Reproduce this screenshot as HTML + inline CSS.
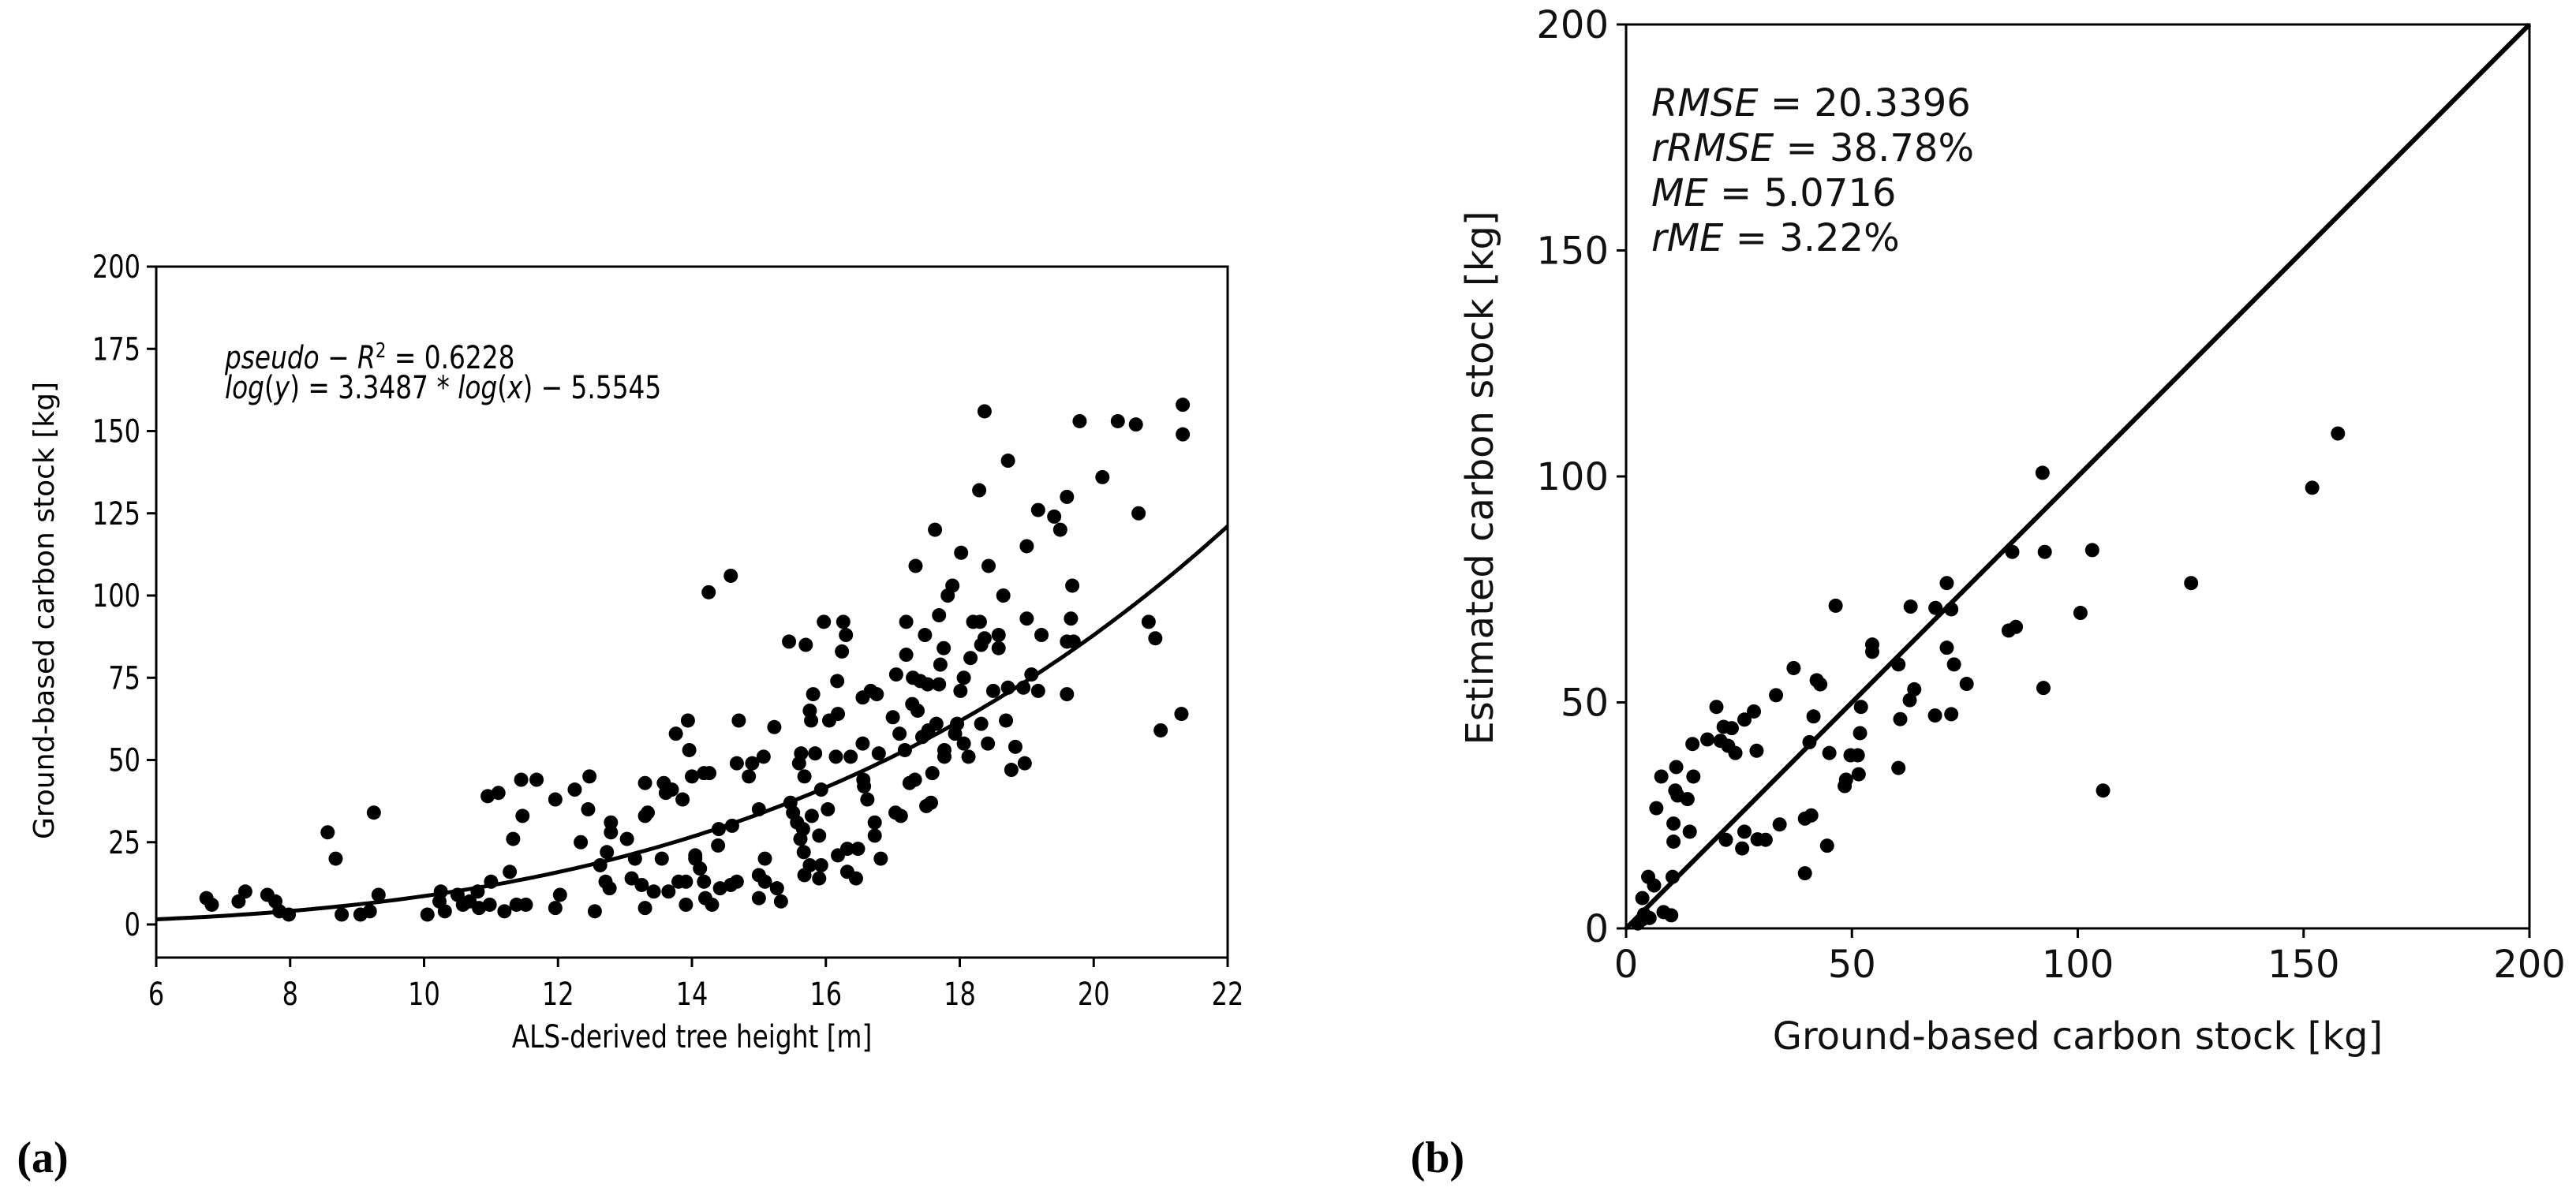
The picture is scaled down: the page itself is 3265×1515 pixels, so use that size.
<!DOCTYPE html>
<html><head><meta charset="utf-8"><style>
html,body{margin:0;padding:0;background:#fff;}
svg{display:block;font-family:"DejaVu Sans","Liberation Sans",sans-serif;}
</style></head><body>
<svg id="fig" width="3265" height="1515" viewBox="0 0 3265 1515" xmlns="http://www.w3.org/2000/svg">
<rect width="3265" height="1515" fill="#fff"/>
<g id="panelA"></g>
<g id="panelB"></g>
<text x="54" y="1486" font-family="Liberation Serif, serif" font-weight="bold" font-size="56" text-anchor="middle">(a)</text>
<text x="1822" y="1486" font-family="Liberation Serif, serif" font-weight="bold" font-size="56" text-anchor="middle">(b)</text>
</svg>
<script>
// ---- Panel A data ----
const heightX = [
19.79,20.13,20.36,20.63,20.67,20.82,20.92,21.0,21.33,21.33,
21.31,19.68,19.66,19.6,19.5,19.41,19.6,19.7,19.6,19.17,
19.22,19.17,19.07,19.0,19.0,18.97,18.95,18.83,18.77,18.72,
18.69,18.72,18.65,18.58,18.58,18.5,18.42,18.43,18.37,18.37,
18.32,18.32,18.29,18.3,18.2,18.16,18.13,18.06,18.02,18.06,
18.01,17.96,17.93,17.89,17.82,17.77,17.77,17.76,17.71,17.69,
17.69,17.65,17.63,17.59,17.57,17.53,17.5,17.52,17.48,17.44,
17.41,17.37,17.34,17.3,17.29,17.33,17.25,17.2,17.2,17.18,
17.1,17.12,17.05,17.04,17.0,16.82,16.76,16.73,16.73,16.79,
16.67,16.62,16.57,16.56,16.55,16.55,16.48,16.45,16.24,16.3,
16.26,16.37,16.17,16.18,16.15,16.18,16.32,16.32,16.05,16.03,
15.97,15.93,15.9,15.93,15.84,15.81,15.9,15.79,15.78,15.76,
15.7,15.68,15.63,15.6,15.68,15.67,15.66,15.62,15.57,15.51,
15.47,15.45,15.76,15.33,15.27,15.23,15.09,15.09,15.0,15.0,
15.0,15.07,14.9,14.85,14.7,14.67,14.67,14.58,14.58,14.6,
14.39,14.4,14.42,14.26,14.3,14.25,14.18,14.2,14.18,14.12,
14.05,14.05,14.0,13.96,13.94,13.91,13.91,13.86,13.76,13.8,
13.7,13.61,13.58,13.65,13.55,13.43,13.34,13.3,13.3,13.3,
13.25,13.15,13.1,13.03,12.79,12.79,12.77,12.71,12.73,12.63,
12.55,12.47,12.45,12.34,12.25,12.03,11.96,11.96,11.68,11.52,
11.47,11.45,11.38,11.33,11.28,11.2,11.11,11.0,10.95,10.98,
10.82,10.8,10.68,10.58,10.5,10.31,10.25,10.23,10.05,9.32,
9.25,9.19,9.05,8.77,8.68,8.56,7.98,7.84,7.78,7.66,
7.33,7.23,6.83,6.75];
const carbonY = [
153,136,153,152,125,92,87,59,158,149,
64,103,93,130,120,124,86,86,70,126,
88,71,76,115,93,49,72,54,47,141,
62,72,100,84,88,71,55,109,156,87,
85,61,132,92,92,81,51,55,113,75,
71,61,58,103,100,51,53,84,79,73,
94,61,120,46,37,59,36,73,88,57,
74,65,109,75,67,44,43,92,82,53,
58,33,76,34,63,20,70,31,27,52,
71,38,42,44,55,69,23,14,83,88,
92,51,74,64,51,21,16,23,62,35,
92,41,14,18,52,70,27,33,62,65,
85,45,52,49,15,22,29,26,31,34,
37,86,18,7,11,60,13,20,15,8,
35,51,49,45,62,49,13,106,12,30,
24,29,11,46,6,101,46,8,13,17,
20,21,45,53,62,6,13,38,58,13,
41,40,43,10,20,10,34,33,43,5,
12,20,14,26,28,31,11,13,22,18,
4,45,35,25,41,9,38,5,44,6,
33,44,6,26,16,4,40,13,39,6,
5,10,7,6,9,4,10,7,3,9,
34,4,3,3,20,28,3,4,7,9,
10,7,6,8];
const fitCoefA = -5.5545, fitCoefB = 3.3487;
const xTicksA = [6,8,10,12,14,16,18,20,22];
const yTicksA = [0,25,50,75,100,125,150,175,200];
// ---- Panel B data ----
const groundX = [157.6,151.9,125.1,105.6,103.2,100.6,92.2,92.7,92.4,85.5,86.3,84.7,71,72,68.5,71,72.6,75.4,72,68.4,63,63.8,62.8,60.3,60.7,60.3,54.5,54.5,46.4,52,51.8,51.5,49.7,48.7,48.4,51.3,45,44.5,43,42.2,41.5,40.6,41,39.6,39.6,37.1,33.2,34,30.9,29.1,28.9,28.3,26.2,25.7,26.2,24.2,23.4,22.6,22.1,21.6,20.9,20,18,14.7,14.9,14.1,13.6,11.4,11.1,10.9,10.5,10.5,10.3,10,8.3,7.8,6.7,6.2,4.9,3.6,3.6,5.2,2.6,4];
const estimatedY = [109.5,97.5,76.4,30.5,83.7,69.8,100.8,83.3,53.2,83.3,66.7,65.9,76.4,70.6,70.9,62.1,58.4,54.1,47.4,47.1,71.2,52.9,50.5,58.4,46.3,35.5,62.8,61.2,71.4,49,43.2,34.1,38.3,32.9,31.5,38.3,38.8,18.3,54,54.9,46.9,41.2,25,24.3,12.2,57.6,51.6,23,19.6,19.7,39.3,48,46.2,17.7,21.4,38.8,44.3,40.4,19.6,44.6,41.5,49,41.8,40.8,33.6,21.4,28.6,29.4,35.7,30.5,23.2,19.2,11.4,2.9,3.6,33.6,26.6,9.5,11.4,6.7,2,2.3,1.1,3.1];
const xTicksB = [0,50,100,150,200];
const yTicksB = [0,50,100,150,200];
const metricLines = ["RMSE|20.3396","rRMSE|38.78%","ME|5.0716","rME|3.22%"];

const NS="http://www.w3.org/2000/svg";
function mk(tag, parent, attrs){const e=document.createElementNS(NS,tag);for(const k in attrs)e.setAttribute(k,attrs[k]);parent.appendChild(e);return e;}

// ===== Panel A =====
const A=document.getElementById('panelA');
const aL=198,aR=1556,aT=338,aB=1214,aY0=1172;
const ax=v=>aL+(v-6)/(22-6)*(aR-aL);
const ay=v=>aY0-v/200*(aY0-aT);
const frameA=mk('rect',A,{x:aL,y:aT,width:aR-aL,height:aB-aT,fill:'none',stroke:'#000','stroke-width':3});


xTicksA.forEach(t=>{
  const l=mk('line',A,{x1:ax(t),x2:ax(t),y1:aB,y2:aB+12,stroke:'#000','stroke-width':3});
  
  
  const g=mk('g',A,{transform:`translate(${ax(t)},${aB+60}) scale(0.8,1)`});
  const tx=mk('text',g,{x:0,y:0,'font-size':40,'text-anchor':'middle'});
  tx.textContent=t;
  
  
});
yTicksA.forEach(t=>{
  const l=mk('line',A,{x1:aL-12,x2:aL,y1:ay(t),y2:ay(t),stroke:'#000','stroke-width':3});
  
  
  const g=mk('g',A,{transform:`translate(${aL-20},${ay(t)+14}) scale(0.8,1)`});
  const tx=mk('text',g,{x:0,y:0,'font-size':40,'text-anchor':'end'});
  tx.textContent=t;
  
  
});
const nA=Math.min(heightX.length,carbonY.length);
for(let i=0;i<nA;i++){
  const c=mk('circle',A,{cx:ax(heightX[i]),cy:ay(carbonY[i]),r:9,fill:'#000'});
  
  
}
let d='';
for(let x=6;x<=22.0001;x+=0.1){const y=Math.exp(fitCoefA)*Math.pow(x,fitCoefB);d+=(d?'L':'M')+ax(x).toFixed(1)+','+ay(y).toFixed(1);}
const fit=mk('path',A,{d:d,fill:'none',stroke:'#000','stroke-width':5});


const g1=mk('g',A,{transform:'translate(285,467) scale(0.82,1)'});
const an1=mk('text',g1,{x:0,y:0,'font-size':40});
an1.innerHTML='<tspan font-style="italic">pseudo</tspan> − <tspan font-style="italic">R</tspan><tspan dy="-14" font-size="26">2</tspan><tspan dy="14"> = 0.6228</tspan>';


const g2=mk('g',A,{transform:'translate(285,505) scale(0.82,1)'});
const an2=mk('text',g2,{x:0,y:0,'font-size':40});
an2.innerHTML='<tspan font-style="italic">log</tspan>(<tspan font-style="italic">y</tspan>) = 3.3487 * <tspan font-style="italic">log</tspan>(<tspan font-style="italic">x</tspan>) − 5.5545';


const g3=mk('g',A,{transform:`translate(${(aL+aR)/2},1328) scale(0.82,1)`});
const xla=mk('text',g3,{x:0,y:0,'font-size':40,'text-anchor':'middle'});
xla.textContent='ALS-derived tree height [m]';


const yla=mk('text',A,{x:0,y:0,'font-size':36,'text-anchor':'middle',transform:'translate(68,774) rotate(-90)'});
yla.textContent='Ground-based carbon stock [kg]';



// ===== Panel B =====
const B=document.getElementById('panelB');
const bL=2061,bR=3206,bT=31,bB=1177;
const bx=v=>bL+v/200*(bR-bL);
const by=v=>bB-v/200*(bB-bT);
const frameB=mk('rect',B,{x:bL,y:bT,width:bR-bL,height:bB-bT,fill:'none',stroke:'#000','stroke-width':3});


xTicksB.forEach(t=>{
  const l=mk('line',B,{x1:bx(t),x2:bx(t),y1:bB,y2:bB+12,stroke:'#000','stroke-width':3});
  
  
  const tx=mk('text',B,{x:bx(t),y:bB+62,'font-size':48,'text-anchor':'middle',fill:'#111'});
  tx.textContent=t;
  
  
});
yTicksB.forEach(t=>{
  const l=mk('line',B,{x1:bL-12,x2:bL,y1:by(t),y2:by(t),stroke:'#000','stroke-width':3});
  
  
  const tx=mk('text',B,{x:bL-22,y:by(t)+17,'font-size':48,'text-anchor':'end',fill:'#111'});
  tx.textContent=t;
  
  
});
const oneToOne=mk('line',B,{x1:bx(0),y1:by(0),x2:bx(200),y2:by(200),stroke:'#000','stroke-width':6});


groundX.forEach((x,i)=>{
  const c=mk('circle',B,{cx:bx(x),cy:by(estimatedY[i]),r:9,fill:'#000'});
  
  
});
metricLines.forEach((s,i)=>{
  const [k,v]=s.split('|');
  const tx=mk('text',B,{x:2093,y:147+i*57,'font-size':48,fill:'#111'});
  tx.innerHTML='<tspan font-style="italic">'+k+'</tspan> = '+v;
  
  
});
const xlb=mk('text',B,{x:(bL+bR)/2,y:1330,'font-size':48,'text-anchor':'middle',fill:'#111'});
xlb.textContent='Ground-based carbon stock [kg]';


const ylb=mk('text',B,{x:0,y:0,'font-size':48,'text-anchor':'middle',fill:'#111',transform:'translate(1892,606) rotate(-90)'});
ylb.textContent='Estimated carbon stock [kg]';


</script>
</body></html>
